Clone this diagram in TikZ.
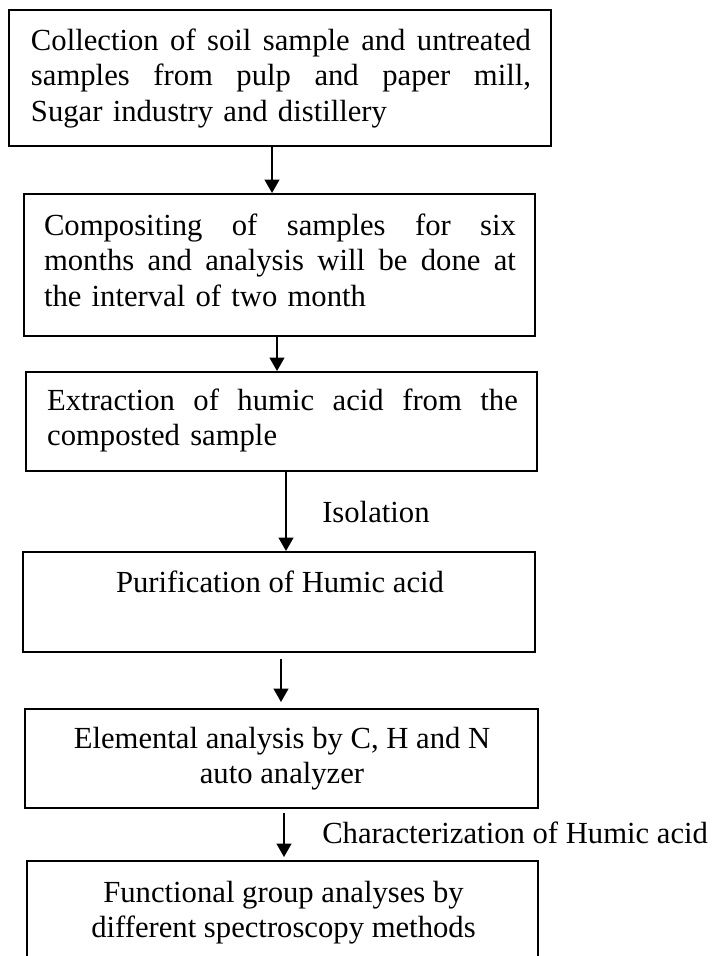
\documentclass[tikz,border=0pt]{standalone}
\usepackage{fontspec}
\setmainfont{Liberation Serif}
\usetikzlibrary{arrows.meta,fit}
\begin{document}
\begin{tikzpicture}[x=0.75pt,y=-0.75pt,
  box/.style={draw, line width=1.5pt, inner sep=0pt},
  txt/.style={inner sep=0pt, anchor=north, font=\fontsize{23}{26.6}\selectfont},
  lbl/.style={inner sep=0pt, anchor=base west, font=\fontsize{23}{26.6}\selectfont},
  arr/.style={line width=1.5pt, -{Triangle[length=10pt,width=11pt]}}]
\useasboundingbox (0,0) rectangle (714,956);
% boxes
\node[box, fit={(9,10) (551,146)}] (b1) {};
\node[box, fit={(24,194) (535,336)}] (b2) {};
\node[box, fit={(26,372) (537,471)}] (b3) {};
\node[box, fit={(23,552) (535,652)}] (b4) {};
\node[box, fit={(25,709) (538,808)}] (b5) {};
\node[box, fit={(27,861) (538,959)}] (b6) {};
% texts
\node[txt, text width=375pt, align=left] (t1) at (281,25.2)
  {\strut\makebox[375pt][l]{Collection \hfill of \hfill soil \hfill sample \hfill and \hfill untreated}\\
   \makebox[375pt][l]{samples \hfill from \hfill pulp \hfill and \hfill paper \hfill mill,}\\
   Sugar industry and distillery};
\node[txt, text width=354pt, align=left] (t2) at (280,210)
  {\strut\makebox[354pt][l]{Compositing \hfill of \hfill samples \hfill for \hfill six}\\
   \makebox[354pt][l]{months \hfill and \hfill analysis \hfill will \hfill be \hfill done \hfill at}\\
   the interval of two month};
\node[txt, text width=353pt, align=left] (t3) at (282.5,385)
  {\strut\makebox[353pt][l]{Extraction \hfill of \hfill humic \hfill acid \hfill from \hfill the}\\
   composted sample};
\node[txt, align=center] (t4) at (280,567) {\strut Purification of Humic acid};
\node[txt, align=center] (t5) at (282,723) {\strut Elemental analysis by C, H and N\\auto analyzer};
\node[txt, align=center] (t6) at (283.5,877) {\strut Functional group analyses by\\different spectroscopy methods};
% labels
\node[lbl] (l1) at (322,522) {Isolation};
\node[lbl] (l2) at (322,843) {Characterization of Humic acid};
% arrows
\coordinate (x1) at (272,0);
\coordinate (x2) at (277,0);
\coordinate (x3) at (286,0);
\coordinate (x4) at (281,0);
\coordinate (x5) at (284,0);
\draw[arr] (b1.south -| x1) -- (b2.north -| x1);
\draw[arr] (b2.south -| x2) -- (b3.north -| x2);
\draw[arr] (b3.south -| x3) -- (b4.north -| x3);
\draw[arr, shorten <=4.5pt, shorten >=4.5pt] (b4.south -| x4) -- (b5.north -| x4);
\draw[arr, shorten <=3pt, shorten >=2.25pt] (b5.south -| x5) -- (b6.north -| x5);
\end{tikzpicture}
\end{document}
